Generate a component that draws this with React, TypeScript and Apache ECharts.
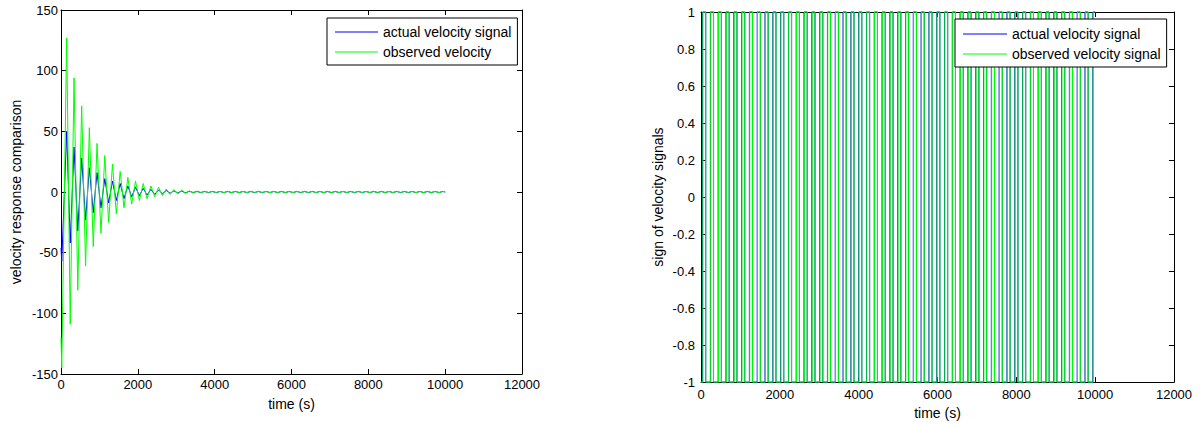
import React, { useEffect, useRef } from "react";
import * as echarts from "echarts";

// ---- Left chart: velocity response comparison (extrema) ----
const responseTimes = [
  0, 20, 148, 240, 340, 437, 538, 640, 738, 840, 938, 1040,
  1140, 1240, 1340, 1440, 1540, 1640, 1740, 1840, 1940, 2040, 2140, 2240, 2340, 2440, 2540, 2640,
  2740, 2840, 2940, 3040, 3140, 3240, 3340, 3440, 3540, 3640, 3740, 3840, 3940, 4040, 4140, 4240,
  4340, 4440, 4540, 4640, 4740, 4840, 4940, 5040, 5140, 5240, 5340, 5440, 5540, 5640, 5740, 5840,
  5940, 6040, 6140, 6240, 6340, 6440, 6540, 6640, 6740, 6840, 6940, 7040, 7140, 7240, 7340, 7440,
  7540, 7640, 7740, 7840, 7940, 8040, 8140, 8240, 8340, 8440, 8540, 8640, 8740, 8840, 8940, 9040,
  9140, 9240, 9340, 9440, 9540, 9640, 9740, 9840, 9940, 10000,
];

const actualVelocity = [
  -46, -57, 50, -42, 37, -32, 28, -23, 20, -17, 16, -13,
  11, -9, 9, -7, 7, -5.5, 5, -4, 4, -3, 3, -2.5, 2.2, -2, 1.8, -1.5,
  1.3, -1.1, 1, -0.9, 0.8, -0.7, 0.6, -0.4, 0.4, -0.4, 0.4, -0.4, 0.4, -0.4, 0.4, -0.4,
  0.4, -0.4, 0.4, -0.4, 0.4, -0.4, 0.4, -0.4, 0.4, -0.4, 0.4, -0.4, 0.4, -0.4, 0.4, -0.4,
  0.4, -0.4, 0.4, -0.4, 0.4, -0.4, 0.4, -0.4, 0.4, -0.4, 0.4, -0.4, 0.4, -0.4, 0.4, -0.4,
  0.4, -0.4, 0.4, -0.4, 0.4, -0.4, 0.4, -0.4, 0.4, -0.4, 0.4, -0.4, 0.4, -0.4, 0.4, -0.4,
  0.4, -0.4, 0.4, -0.4, 0.4, -0.4, 0.4, -0.4, 0.4, 0,
];

const observedVelocity = [
  -120, -145, 127, -109, 94, -81, 71, -61, 53, -45, 40, -34,
  30, -25, 23, -18, 17, -13, 12, -10, 9, -7, 7, -5.5, 5, -4, 4, -3,
  2.5, -2, 2, -1.5, 1.5, -1.2, 1, -0.9, 0.8, -0.6, 0.6, -0.6, 0.6, -0.6, 0.6, -0.6,
  0.6, -0.6, 0.6, -0.6, 0.6, -0.6, 0.6, -0.6, 0.6, -0.6, 0.6, -0.6, 0.6, -0.6, 0.6, -0.6,
  0.6, -0.6, 0.6, -0.6, 0.6, -0.6, 0.6, -0.6, 0.6, -0.6, 0.6, -0.6, 0.6, -0.6, 0.6, -0.6,
  0.6, -0.6, 0.6, -0.6, 0.6, -0.6, 0.6, -0.6, 0.6, -0.6, 0.6, -0.6, 0.6, -0.6, 0.6, -0.6,
  0.6, -0.6, 0.6, -0.6, 0.6, -0.6, 0.6, -0.6, 0.6, 0,
];

// ---- Right chart: sign of velocity signals (switching times) ----
const signEndTime = 10000;
const actualSignStart = -1;
const observedSignStart = -1;
const actualSignSwitches = [
  40, 120, 238, 318, 436, 516, 634, 714, 832, 912, 1030, 1110, 1228, 1308, 1426, 1506,
  1624, 1704, 1822, 1902, 2020, 2100, 2218, 2298, 2416, 2496, 2614, 2694, 2812, 2892,
  3010, 3090, 3208, 3288, 3406, 3486, 3604, 3684, 3802, 3882, 4000, 4080, 4198, 4278,
  4396, 4476, 4594, 4674, 4792, 4872, 4990, 5070, 5188, 5268, 5386, 5466, 5584, 5664,
  5782, 5862, 5980, 6060, 6178, 6258, 6376, 6456, 6574, 6654, 6772, 6852, 6970, 7050,
  7168, 7248, 7366, 7446, 7564, 7644, 7762, 7842, 7960, 8040, 8158, 8238, 8356, 8436,
  8554, 8634, 8752, 8832, 8950, 9030, 9148, 9228, 9346, 9426, 9544, 9624, 9742, 9822,
  9940,
];
const observedSignSwitches = [
  48, 120, 246, 318, 444, 516, 642, 714, 840, 912, 1038, 1110, 1236, 1308, 1434, 1506,
  1632, 1704, 1830, 1902, 2028, 2100, 2226, 2298, 2424, 2496, 2622, 2694, 2820, 2892,
  3018, 3090, 3216, 3288, 3414, 3486, 3612, 3684, 3810, 3882, 4008, 4080, 4206, 4278,
  4404, 4476, 4602, 4674, 4800, 4872, 4998, 5070, 5196, 5268, 5394, 5466, 5592, 5664,
  5790, 5862, 5988, 6060, 6186, 6258, 6384, 6456, 6582, 6654, 6780, 6852, 6978, 7050,
  7176, 7248, 7374, 7446, 7572, 7644, 7770, 7842, 7968, 8040, 8166, 8238, 8364, 8436,
  8562, 8634, 8760, 8832, 8958, 9030, 9156, 9228, 9354, 9426, 9552, 9624, 9750, 9822,
  9948,
];

const xTicks = { min: 0, max: 12000, interval: 2000 };
const leftY = { min: -150, max: 150, interval: 50 };
const rightY = { min: -1, max: 1, interval: 0.2 };

const BLUE = "#0000ff";
const GREEN = "#00ff00";
const FONT = "'Liberation Sans', Arial, Helvetica, sans-serif";

function buildSquare(start: number, switches: number[], end: number) {
  const pts: number[][] = [[0, start]];
  let v = start;
  for (const s of switches) {
    pts.push([s, v]);
    v = -v;
    pts.push([s, v]);
  }
  pts.push([end, v]);
  return pts;
}

const plainLabel = (v: number) => String(v);

function axisBase(gridIndex: number, range: any, showLabel: boolean, position: string, margin = 4) {
  return {
    gridIndex,
    type: "value",
    position,
    min: range.min,
    max: range.max,
    interval: range.interval,
    axisLine: { show: true, onZero: false, lineStyle: { color: "#000", width: 1 } },
    axisTick: { show: true, inside: true, length: 5, lineStyle: { color: "#000" } },
    axisLabel: { show: showLabel, color: "#000", fontSize: 13, fontFamily: FONT, margin, formatter: plainLabel },
    splitLine: { show: false },
  };
}

function legendBox(left: number, top: number, itemWidth: number, padTop: number, names: string[]) {
  return {
    left,
    top,
    orient: "vertical",
    padding: [padTop, 6, 5, 8],
    icon: "rect",
    itemWidth,
    itemHeight: 1,
    itemGap: 4,
    backgroundColor: "#fff",
    borderColor: "#000",
    borderWidth: 1,
    borderRadius: 0,
    selectedMode: false,
    textStyle: { color: "#000", fontSize: 14, fontFamily: FONT, lineHeight: 16 },
    data: names,
  };
}

export default function App() {
  const ref = useRef<HTMLDivElement>(null);
  useEffect(() => {
    if (!ref.current) return;
    const chart = echarts.init(ref.current, undefined, { renderer: "svg" });
    const nameStyle = { color: "#000", fontSize: 14, fontFamily: FONT };
    const option: any = {
      animation: false,
      textStyle: { fontFamily: FONT },
      grid: [
        { left: 61, top: 10, width: 461, height: 364 },
        { left: 701, top: 12, width: 473, height: 372 },
      ],
      xAxis: [
        {
          ...axisBase(0, xTicks, true, "bottom", 4),
          name: "time (s)",
          nameLocation: "middle",
          nameGap: 23,
          nameTextStyle: nameStyle,
        },
        axisBase(0, xTicks, false, "top"),
        {
          ...axisBase(1, xTicks, true, "bottom", 6),
          name: "time (s)",
          nameLocation: "middle",
          nameGap: 23,
          nameTextStyle: nameStyle,
        },
        axisBase(1, xTicks, false, "top"),
      ],
      yAxis: [
        {
          ...axisBase(0, leftY, true, "left", 3),
          name: "velocity response comparison",
          nameLocation: "middle",
          nameGap: 38,
          nameTextStyle: nameStyle,
        },
        axisBase(0, leftY, false, "right"),
        {
          ...axisBase(1, rightY, true, "left", 6),
          name: "sign of velocity signals",
          nameLocation: "middle",
          nameGap: 36,
          nameTextStyle: nameStyle,
        },
        axisBase(1, rightY, false, "right"),
      ],
      legend: [
        legendBox(327, 18, 43, 6, ["actual velocity signal", "observed velocity"]),
        legendBox(955, 19, 44, 7, ["actual velocity signal", "observed velocity signal"]),
      ],
      series: [
        {
          type: "line",
          name: "actual velocity signal",
          xAxisIndex: 0,
          yAxisIndex: 0,
          data: responseTimes.map((t, i) => [t, actualVelocity[i]]),
          symbol: "none",
          silent: true,
          lineStyle: { color: BLUE, width: 1 },
          itemStyle: { color: BLUE },
        },
        {
          type: "line",
          name: "observed velocity",
          xAxisIndex: 0,
          yAxisIndex: 0,
          data: responseTimes.map((t, i) => [t, observedVelocity[i]]),
          symbol: "none",
          silent: true,
          lineStyle: { color: GREEN, width: 1 },
          itemStyle: { color: GREEN },
        },
        {
          type: "line",
          name: "actual velocity signal",
          xAxisIndex: 2,
          yAxisIndex: 2,
          data: buildSquare(actualSignStart, actualSignSwitches, signEndTime),
          symbol: "none",
          silent: true,
          clip: false,
          lineStyle: { color: BLUE, width: 1 },
          itemStyle: { color: BLUE },
        },
        {
          type: "line",
          name: "observed velocity signal",
          xAxisIndex: 2,
          yAxisIndex: 2,
          data: buildSquare(observedSignStart, observedSignSwitches, signEndTime),
          symbol: "none",
          silent: true,
          clip: false,
          lineStyle: { color: GREEN, width: 1 },
          itemStyle: { color: GREEN },
        },
      ],
    };
    chart.setOption(option);
    return () => chart.dispose();
  }, []);
  return (
    <div
      ref={ref}
      style={{ position: "absolute", left: 0, top: 0, width: 1200, height: 425, background: "#fff" }}
    />
  );
}
